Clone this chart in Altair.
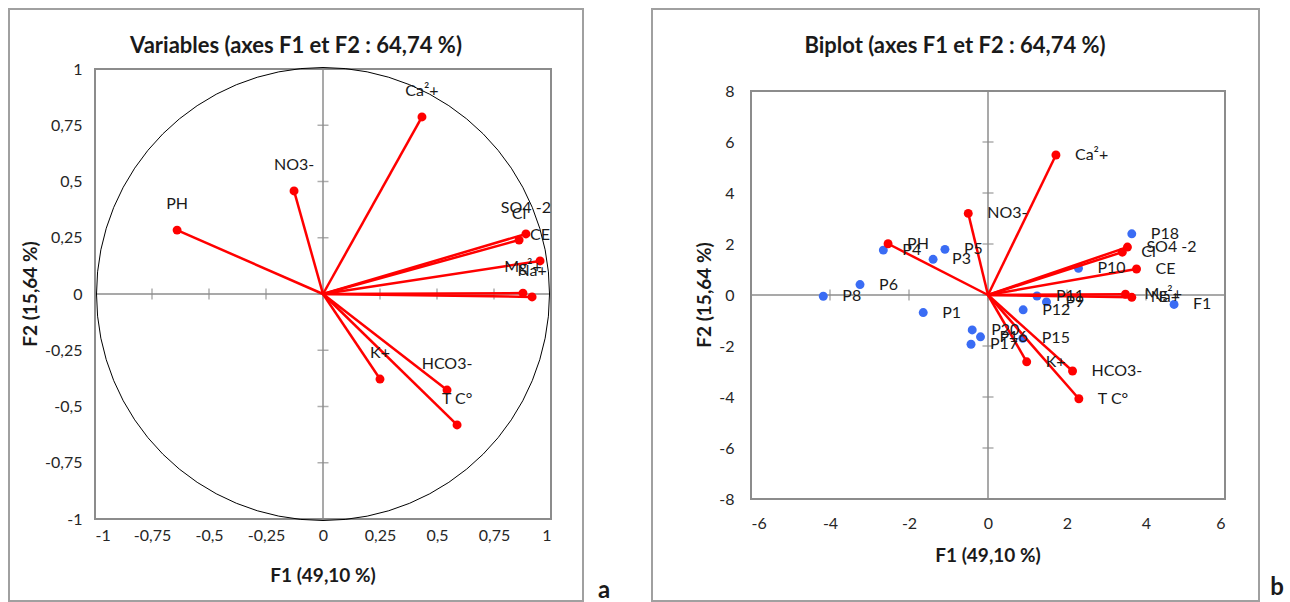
import altair as alt
import pandas as pd

# ---------------- data ----------------
var_names = ["Ca²+", "NO3-", "PH", "SO4 -2", "Cl", "CE", "Mg²+", "Na+", "K+", "HCO3-", "T C°"]
corr_f1 = [0.434, -0.127, -0.640, 0.890, 0.860, 0.952, 0.877, 0.917, 0.250, 0.544, 0.588]
corr_f2 = [0.787, 0.458, 0.284, 0.267, 0.240, 0.147, 0.004, -0.013, -0.378, -0.427, -0.582]

bi_f1 = [1.72, -0.50, -2.53, 3.53, 3.40, 3.76, 3.48, 3.64, 0.98, 2.14, 2.30]
bi_f2 = [5.49, 3.20, 2.01, 1.88, 1.68, 1.02, 0.03, -0.09, -2.62, -2.98, -4.07]

obs_names = ["P1", "P3", "P4", "P5", "P6", "P8", "P9", "P10", "P11", "P12",
             "P15", "P16", "P17", "P18", "P20", "F1"]
obs_f1 = [-1.64, -1.39, -2.65, -1.09, -3.24, -4.17, 1.48, 2.29, 1.24, 0.89,
          0.88, -0.19, -0.43, 3.64, -0.40, 4.71]
obs_f2 = [-0.69, 1.40, 1.76, 1.79, 0.41, -0.05, -0.27, 1.05, -0.04, -0.58,
          -1.70, -1.64, -1.93, 2.40, -1.37, -0.37]

left_ticks = [-1, -0.75, -0.5, -0.25, 0, 0.25, 0.5, 0.75, 1]
right_x_ticks = [-6, -4, -2, 0, 2, 4, 6]
right_y_ticks = [-8, -6, -4, -2, 0, 2, 4, 6, 8]

title_left = "Variables (axes F1 et F2 : 64,74 %)"
title_right = "Biplot (axes F1 et F2 : 64,74 %)"
xtitle = "F1 (49,10 %)"
ytitle = "F2 (15,64 %)"

RED = "#ff0000"
BLUE = "#3a6cf4"
GRAY = "#8c8c8c"
FONT = "Lato"
LABEL_EXPR = "replace('' + datum.value, '.', ',')"

# ---------------- helpers ----------------
def one(text):
    return pd.DataFrame({"t": [text]})


def text_layer(text, x, y, size, bold=True, angle=0, color="#1a1a1a"):
    kw = dict(fontSize=size, font=FONT, fontWeight="bold" if bold else "normal",
              align="center", baseline="middle", color=color)
    if angle:
        kw["angle"] = angle
    return alt.Chart(one(text)).mark_text(**kw).encode(
        x=alt.value(x), y=alt.value(y), text="t:N")


def border_layer(x1, x2, y1, y2):
    return alt.Chart(one("b")).mark_rect(fill="transparent", stroke="#a0a0a0", strokeWidth=2).encode(
        x=alt.value(x1), x2=alt.value(x2), y=alt.value(y1), y2=alt.value(y2))


# ================= LEFT PANEL (correlation circle) =================
LW, LH = 456, 450
lx = alt.Scale(domain=[-1, 1], nice=False, zero=False)
ly = alt.Scale(domain=[-1, 1], nice=False, zero=False)
lax = alt.Axis(values=left_ticks, labelExpr=LABEL_EXPR, labelPadding=8, title=None)
lay = alt.Axis(values=left_ticks, labelExpr=LABEL_EXPR, labelPadding=13, title=None)


def LX(f):
    return alt.X(f, scale=lx, axis=lax)


def LY(f):
    return alt.Y(f, scale=ly, axis=lay)


frame_l = pd.DataFrame({"x1": [-1], "x2": [1], "y1": [-1], "y2": [1]})
frame_layer_l = alt.Chart(frame_l).mark_rect(fill="transparent", stroke=GRAY, strokeWidth=2).encode(
    x=LX("x1:Q"), x2="x2:Q", y=LY("y1:Q"), y2="y2:Q")

axes_l = pd.DataFrame({"x1": [-1, 0], "x2": [1, 0], "y1": [0, -1], "y2": [0, 1]})
axis_rules_l = alt.Chart(axes_l).mark_rule(color=GRAY, strokeWidth=1.5).encode(
    x=LX("x1:Q"), x2="x2:Q", y=LY("y1:Q"), y2="y2:Q")

ticks_l = pd.DataFrame({"v": left_ticks, "z": [0] * len(left_ticks)})
xticks_l = alt.Chart(ticks_l).mark_tick(orient="vertical", size=11, thickness=1.5, color=GRAY).encode(
    x=LX("v:Q"), y=LY("z:Q"))
yticks_l = alt.Chart(ticks_l).mark_tick(orient="horizontal", size=11, thickness=1.5, color=GRAY).encode(
    x=LX("z:Q"), y=LY("v:Q"))

circle_df = pd.DataFrame({"cx": [0], "cy": [0]})
circle_l = alt.Chart(circle_df).mark_point(shape="circle", size=453 * 453, filled=False,
                                           stroke="black", strokeWidth=1, opacity=1).encode(
    x=LX("cx:Q"), y=LY("cy:Q"))

corr_df = pd.DataFrame({"name": var_names, "f1": corr_f1, "f2": corr_f2,
                        "o": [0] * len(var_names)})
vec_l = alt.Chart(corr_df).mark_rule(color=RED, strokeWidth=2.5).encode(
    x=LX("o:Q"), y=LY("o:Q"), x2="f1:Q", y2="f2:Q")
pts_l = alt.Chart(corr_df).mark_circle(color=RED, size=80, opacity=1).encode(
    x=LX("f1:Q"), y=LY("f2:Q"))
lab_l = alt.Chart(corr_df).mark_text(font=FONT, fontSize=16, color="#1a1a1a",
                                     align="center", baseline="middle", dy=-26).encode(
    x=LX("f1:Q"), y=LY("f2:Q"), text="name:N")

left = alt.layer(
    border_layer(-86, 488, -60, 532),
    frame_layer_l, axis_rules_l, xticks_l, yticks_l, circle_l, vec_l, pts_l, lab_l,
    text_layer(title_left, 201, -23, 22),
    text_layer(xtitle, 228, 507, 19),
    text_layer(ytitle, -64, 225, 19, angle=270),
    text_layer("a", 509, 522, 24),
).properties(width=LW, height=LH)

# ================= RIGHT PANEL (biplot) =================
RW, RH = 474, 450
rx = alt.Scale(domain=[-6, 6], nice=False, zero=False)
ry = alt.Scale(domain=[-8 - 20 / 25.5, 8 + 22 / 25.5], nice=False, zero=False)
rax = alt.Axis(values=right_x_ticks, labelExpr=LABEL_EXPR, labelPadding=16, offset=-20, title=None)
ray = alt.Axis(values=right_y_ticks, labelExpr=LABEL_EXPR, labelPadding=17, title=None)


def RX(f):
    return alt.X(f, scale=rx, axis=rax)


def RY(f):
    return alt.Y(f, scale=ry, axis=ray)


frame_r = pd.DataFrame({"x1": [-6], "x2": [6], "y1": [-8], "y2": [8]})
frame_layer_r = alt.Chart(frame_r).mark_rect(fill="transparent", stroke=GRAY, strokeWidth=2).encode(
    x=RX("x1:Q"), x2="x2:Q", y=RY("y1:Q"), y2="y2:Q")

axes_r = pd.DataFrame({"x1": [-6, 0], "x2": [6, 0], "y1": [0, -8], "y2": [0, 8]})
axis_rules_r = alt.Chart(axes_r).mark_rule(color=GRAY, strokeWidth=1.5).encode(
    x=RX("x1:Q"), x2="x2:Q", y=RY("y1:Q"), y2="y2:Q")

xt_r = pd.DataFrame({"v": right_x_ticks, "z": [0] * len(right_x_ticks)})
yt_r = pd.DataFrame({"v": right_y_ticks, "z": [0] * len(right_y_ticks)})
xticks_r = alt.Chart(xt_r).mark_tick(orient="vertical", size=11, thickness=1.5, color=GRAY).encode(
    x=RX("v:Q"), y=RY("z:Q"))
yticks_r = alt.Chart(yt_r).mark_tick(orient="horizontal", size=11, thickness=1.5, color=GRAY).encode(
    x=RX("z:Q"), y=RY("v:Q"))

bi_df = pd.DataFrame({"name": var_names, "f1": bi_f1, "f2": bi_f2, "o": [0] * len(var_names)})
obs_df = pd.DataFrame({"name": obs_names, "f1": obs_f1, "f2": obs_f2})

vec_r = alt.Chart(bi_df).mark_rule(color=RED, strokeWidth=2.5).encode(
    x=RX("o:Q"), y=RY("o:Q"), x2="f1:Q", y2="f2:Q")
obs_pts = alt.Chart(obs_df).mark_circle(color=BLUE, size=80, opacity=1).encode(
    x=RX("f1:Q"), y=RY("f2:Q"))
var_pts = alt.Chart(bi_df).mark_circle(color=RED, size=80, opacity=1).encode(
    x=RX("f1:Q"), y=RY("f2:Q"))
obs_lab = alt.Chart(obs_df).mark_text(font=FONT, fontSize=16, color="#1a1a1a",
                                      align="left", baseline="middle", dx=19).encode(
    x=RX("f1:Q"), y=RY("f2:Q"), text="name:N")
var_lab = alt.Chart(bi_df).mark_text(font=FONT, fontSize=16, color="#1a1a1a",
                                     align="left", baseline="middle", dx=19).encode(
    x=RX("f1:Q"), y=RY("f2:Q"), text="name:N")

right = alt.layer(
    border_layer(-99, 508, -60, 532),
    frame_layer_r, axis_rules_r, xticks_r, yticks_r, obs_pts, vec_r, var_pts, obs_lab, var_lab,
    text_layer(title_right, 204, -23, 22),
    text_layer(xtitle, 237, 487, 19),
    text_layer(ytitle, -46, 226, 19, angle=270),
    text_layer("b", 526, 519, 24),
).properties(width=RW, height=RH)

chart = alt.hconcat(left, right, spacing=200, bounds="flush").properties(
    padding={"left": 7, "top": 7, "right": 4, "bottom": 1},
    background="white",
).configure_view(stroke="transparent").configure_axis(
    grid=False, domain=False, ticks=False, tickSize=0,
    labelFont=FONT, labelFontSize=16, labelColor="#262626",
)

chart.save("out.html", embed_options={"renderer": "svg", "actions": False})
